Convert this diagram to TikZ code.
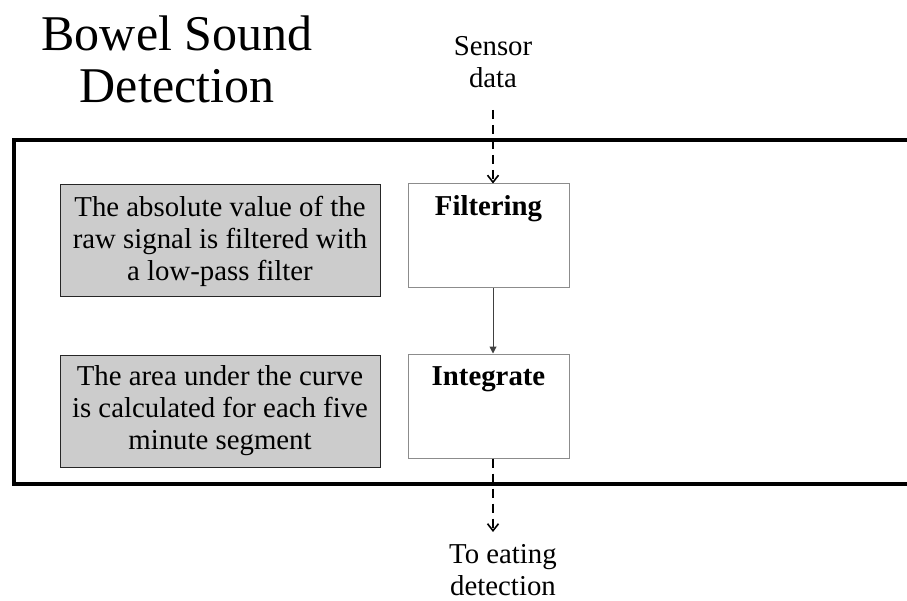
\documentclass[tikz,border=0pt]{standalone}
\usepackage{fontspec}
\setmainfont{Liberation Serif}
\usetikzlibrary{arrows.meta}
\begin{document}
\begin{tikzpicture}[x=1pt,y=-1pt,
  txt/.style={font=\fontsize{28.8}{32.5}\selectfont, align=center, inner sep=0pt},
  graybox/.style={draw=black!85, fill=black!20, line width=1pt, minimum width=320pt, minimum height=112pt, inner sep=0pt, align=center, font=\fontsize{28.8}{32}\selectfont},
  procbox/.style={draw=black!45, fill=white, line width=1pt, minimum width=161pt, minimum height=104pt, inner sep=0pt},
  proclabel/.style={font=\bfseries\fontsize{28.8}{33}\selectfont, anchor=base, inner sep=0pt},
  dasharrow/.style={line width=2.2pt, dash pattern=on 9pt off 6pt, -{Straight Barb[length=7pt,width=11pt,line width=1.6pt]}},
  flowarrow/.style={line width=1pt, draw=black!75, -{Triangle[length=7pt,width=7pt]}},
  frame/.style={line width=4pt}
]
\useasboundingbox (0,0) rectangle (907,601);
\fill[white] (0,0) rectangle (907,601);

% title
\node[font=\fontsize{50}{52}\selectfont, align=center, inner sep=0pt] (title) at (177,59) {Bowel Sound\\Detection};

% outer frame
\draw[frame] (14,140) rectangle (930,484);

% description boxes
\node[graybox] (d1) at (220,241) {The absolute value of the\\raw signal is filtered with\\a low-pass filter};
\node[graybox] (d2) at (220,411) {The area under the curve\\is calculated for each five\\minute segment};

% process boxes
\node[procbox] (filt) at (488.5,236) {};
\node[procbox] (integ) at (488.5,406) {};
\node[proclabel] (filtlbl) at ([yshift=-32pt]filt.north) {Filtering};
\node[proclabel] (integlbl) at ([yshift=-32pt]integ.north) {Integrate};

% input / output texts
\node[txt] (sensor) at (493,62) {Sensor\\data};
\node[txt] (eat) at (503,570) {To eating\\detection};
\coordinate (sIn) at (493,110);
\coordinate (sOut) at (493,532);

% connectors
\draw[dasharrow] (sIn) -- (sIn |- filt.north);
\draw[flowarrow] (filt.south -| sIn) -- (integ.north -| sIn);
\draw[dasharrow] (integ.south -| sOut) -- (sOut);
\end{tikzpicture}
\end{document}
